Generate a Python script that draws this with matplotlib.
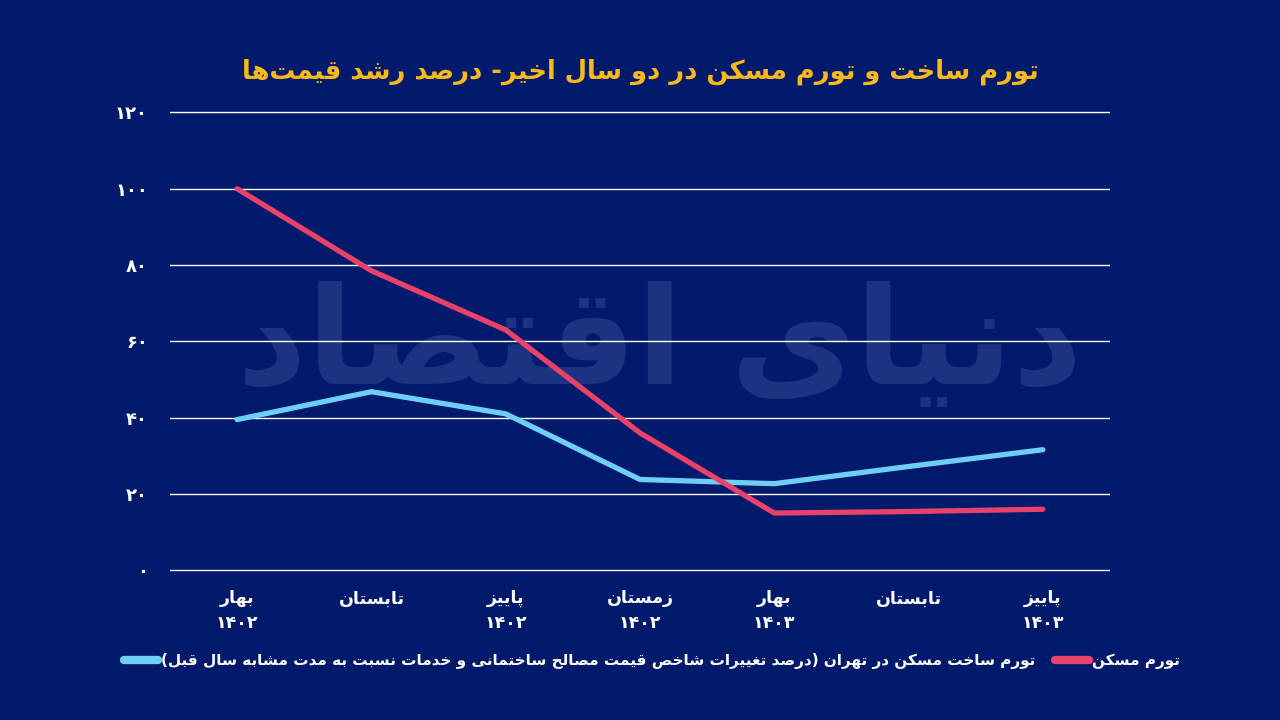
import re
import matplotlib
matplotlib.use('Agg')
import matplotlib.pyplot as plt
from matplotlib.lines import Line2D

# --- data ---
seasons = ['بهار\n۱۴۰۲', 'تابستان', 'پاییز\n۱۴۰۲', 'زمستان\n۱۴۰۲',
           'بهار\n۱۴۰۳', 'تابستان', 'پاییز\n۱۴۰۳']
housing = [100, 78.5, 63, 36, 15, 15.4, 16]
construction = [39.5, 46.8, 41, 23.8, 22.7, 27.2, 31.6]
y_ticks = [0, 20, 40, 60, 80, 100, 120]

title = 'تورم ساخت و تورم مسکن در دو سال اخیر- درصد رشد قیمت\u200cها'
label_housing = 'تورم مسکن'
label_construction = ('تورم ساخت مسکن در تهران (درصد تغییرات شاخص قیمت مصالح '
                      'ساختمانی و خدمات نسبت به مدت مشابه سال قبل)')
watermark = 'دنیای اقتصاد'

BG = '#021a6b'
RED = '#e8426a'
BLUE = '#6ecff6'
GOLD = '#f9b91c'

# --- simple persian shaping (matplotlib does no arabic shaping) ---
FORMS = {
    '\u0627': ('\uFE8D', '\uFE8E', None, None),
    '\u0622': ('\uFE81', '\uFE82', None, None),
    '\u0628': ('\uFE8F', '\uFE90', '\uFE91', '\uFE92'),
    '\u067E': ('\uFB56', '\uFB57', '\uFB58', '\uFB59'),
    '\u062A': ('\uFE95', '\uFE96', '\uFE97', '\uFE98'),
    '\u062B': ('\uFE99', '\uFE9A', '\uFE9B', '\uFE9C'),
    '\u062C': ('\uFE9D', '\uFE9E', '\uFE9F', '\uFEA0'),
    '\u0686': ('\uFB7A', '\uFB7B', '\uFB7C', '\uFB7D'),
    '\u062D': ('\uFEA1', '\uFEA2', '\uFEA3', '\uFEA4'),
    '\u062E': ('\uFEA5', '\uFEA6', '\uFEA7', '\uFEA8'),
    '\u062F': ('\uFEA9', '\uFEAA', None, None),
    '\u0630': ('\uFEAB', '\uFEAC', None, None),
    '\u0631': ('\uFEAD', '\uFEAE', None, None),
    '\u0632': ('\uFEAF', '\uFEB0', None, None),
    '\u0698': ('\uFB8A', '\uFB8B', None, None),
    '\u0633': ('\uFEB1', '\uFEB2', '\uFEB3', '\uFEB4'),
    '\u0634': ('\uFEB5', '\uFEB6', '\uFEB7', '\uFEB8'),
    '\u0635': ('\uFEB9', '\uFEBA', '\uFEBB', '\uFEBC'),
    '\u0636': ('\uFEBD', '\uFEBE', '\uFEBF', '\uFEC0'),
    '\u0637': ('\uFEC1', '\uFEC2', '\uFEC3', '\uFEC4'),
    '\u0638': ('\uFEC5', '\uFEC6', '\uFEC7', '\uFEC8'),
    '\u0639': ('\uFEC9', '\uFECA', '\uFECB', '\uFECC'),
    '\u063A': ('\uFECD', '\uFECE', '\uFECF', '\uFED0'),
    '\u0641': ('\uFED1', '\uFED2', '\uFED3', '\uFED4'),
    '\u0642': ('\uFED5', '\uFED6', '\uFED7', '\uFED8'),
    '\u06A9': ('\uFB8E', '\uFB8F', '\uFB90', '\uFB91'),
    '\u06AF': ('\uFB92', '\uFB93', '\uFB94', '\uFB95'),
    '\u0644': ('\uFEDD', '\uFEDE', '\uFEDF', '\uFEE0'),
    '\u0645': ('\uFEE1', '\uFEE2', '\uFEE3', '\uFEE4'),
    '\u0646': ('\uFEE5', '\uFEE6', '\uFEE7', '\uFEE8'),
    '\u0648': ('\uFEED', '\uFEEE', None, None),
    '\u0647': ('\uFEE9', '\uFEEA', '\uFEEB', '\uFEEC'),
    '\u06CC': ('\uFBFC', '\uFBFD', '\uFBFE', '\uFBFF'),
}


def joins_next(c):
    return c in FORMS and FORMS[c][2] is not None


def shape_line(line):
    chars = list(line)
    out = []
    i = 0
    while i < len(chars):
        c = chars[i]
        if c not in FORMS:
            if c != '\u200c':
                out.append(c)
            i += 1
            continue
        prev = chars[i - 1] if i > 0 else ''
        nxt = chars[i + 1] if i + 1 < len(chars) else ''
        jp = joins_next(prev)
        if c == '\u0644' and nxt == '\u0627':
            out.append('\uFEFC' if jp else '\uFEFB')
            i += 2
            continue
        jn = joins_next(c) and nxt in FORMS
        iso, fin, ini, med = FORMS[c]
        if jp and jn:
            out.append(med)
        elif jp:
            out.append(fin)
        elif jn:
            out.append(ini)
        else:
            out.append(iso)
        i += 1
    vis = ''.join(out)[::-1]
    vis = re.sub(r'[0-9\u06F0-\u06F9]+', lambda m: m.group()[::-1], vis)
    return vis.translate(str.maketrans('()', ')('))


def fa(text):
    return '\n'.join(shape_line(l) for l in text.split('\n'))


plt.rcParams['font.family'] = ['DejaVu Sans']

fig = plt.figure(figsize=(12.8, 7.2), dpi=100, facecolor=BG)
ax = fig.add_axes([170 / 1280, 1 - 574.1 / 720, 940 / 1280, 465.5 / 720])
ax.set_facecolor('none')

# faint watermark behind everything
fig.text(660 / 1280, 0.52, fa(watermark), fontsize=98, fontweight='bold',
         color='#1b3380', ha='center', va='center', zorder=-1)

x = list(range(len(seasons)))
ax.plot(x, construction, color=BLUE, linewidth=3.8, solid_capstyle='round',
        solid_joinstyle='round', zorder=3)
ax.plot(x, housing, color=RED, linewidth=3.8, solid_capstyle='round',
        solid_joinstyle='round', zorder=4)

ax.set_xlim(-0.5, 6.5)
ax.set_ylim(-1, 121)
ax.set_yticks(y_ticks)
fa_digits = str.maketrans('0123456789', '۰۱۲۳۴۵۶۷۸۹')
ax.set_yticklabels([str(v).translate(fa_digits) for v in y_ticks],
                   color='white', fontsize=13, fontweight='bold')
ax.set_xticks(x)
ax.set_xticklabels([fa(s) for s in seasons], color='white', fontsize=12.5,
                   fontweight='bold', linespacing=1.45)
ax.tick_params(axis='y', length=0, pad=16)
ax.tick_params(axis='x', length=0, pad=11)
ax.grid(axis='y', color='white', linewidth=1)
ax.set_axisbelow(True)
for s in ax.spines.values():
    s.set_visible(False)

fig.text(640 / 1280, 1 - 72 / 720, fa(title), color=GOLD, fontsize=18.5,
         fontweight='bold', ha='center', va='center')

handles = [Line2D([], [], color=BLUE, linewidth=6, solid_capstyle='round'),
           Line2D([], [], color=RED, linewidth=6, solid_capstyle='round')]
fig.legend(handles, [fa(label_construction), fa(label_housing)], ncol=2,
           loc='center', bbox_to_anchor=(652 / 1280, 1 - 661 / 720),
           frameon=False, prop={'size': 11, 'weight': 'bold'},
           labelcolor='white', handlelength=2.2, handletextpad=0.2,
           columnspacing=1.3)

fig.savefig('out.png', dpi=100, facecolor=BG)
